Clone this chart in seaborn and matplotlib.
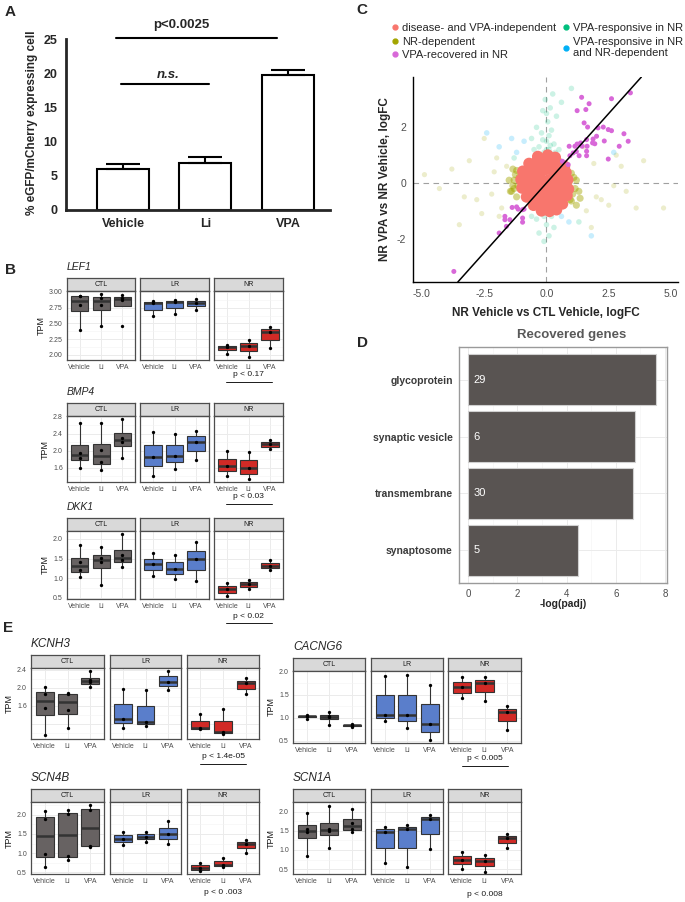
import numpy as np
import pandas as pd
import matplotlib
matplotlib.use('Agg')
import matplotlib.pyplot as plt
from matplotlib.lines import Line2D
from matplotlib.ticker import AutoMinorLocator
import seaborn as sns

W, H = 685, 902

# Panel A - reporter assay
a_groups = ['Vehicle', 'Li', 'VPA']
a_means = [6.0, 6.8, 19.7]
a_sem = [0.75, 0.9, 0.8]

# Panels B / E - TPM per sample, groups in order Vehicle, Li, VPA
treatments = ['Vehicle', 'Li', 'VPA']
conditions = ['CTL', 'LR', 'NR']

lef1_ctl = [[2.40, 2.79, 2.93, 2.94], [2.46, 2.80, 2.91, 2.96], [2.46, 2.88, 2.91, 2.95]]
lef1_lr = [[2.62, 2.82, 2.86], [2.65, 2.84, 2.88], [2.72, 2.82, 2.89]]
lef1_nr = [[2.02, 2.13, 2.16], [1.96, 2.15, 2.23], [2.11, 2.37, 2.44]]

bmp4_ctl = [[1.59, 1.84, 1.96, 2.66], [1.56, 1.74, 2.01, 2.66], [1.84, 2.20, 2.30, 2.74]]
bmp4_lr = [[1.42, 1.85, 2.45], [1.58, 1.89, 2.40], [1.78, 2.21, 2.47]]
bmp4_nr = [[1.42, 1.64, 1.99], [1.33, 1.59, 1.97], [2.04, 2.16, 2.26]]

dkk1_ctl = [[1.03, 1.20, 1.42, 1.84], [0.82, 1.40, 1.52, 1.79], [1.28, 1.45, 1.59, 2.13]]
dkk1_lr = [[1.06, 1.35, 1.63], [0.98, 1.23, 1.60], [0.92, 1.48, 1.91]]
dkk1_nr = [[0.55, 0.72, 0.87], [0.73, 0.84, 0.96], [1.20, 1.30, 1.45]]

kcnh3_ctl = [[0.95, 1.55, 1.86, 2.03], [1.12, 1.51, 1.87, 1.89], [2.01, 2.12, 2.17, 2.38]]
kcnh3_lr = [[1.12, 1.32, 1.97], [1.15, 1.25, 1.95], [1.95, 2.14, 2.37]]
kcnh3_nr = [[1.09, 1.11, 1.43], [0.99, 1.02, 1.53], [1.86, 2.10, 2.22]]

cacng6_ctl = [[0.97, 1.03, 1.04, 1.06], [0.85, 1.01, 1.03, 1.12], [0.79, 0.82, 0.84, 0.86]]
cacng6_lr = [[0.93, 1.06, 1.91], [0.78, 1.06, 1.93], [0.52, 0.87, 1.70]]
cacng6_nr = [[1.42, 1.66, 1.89], [1.36, 1.74, 1.87], [0.73, 1.12, 1.25]]

scn4b_ctl = [[0.63, 0.97, 1.90, 2.10], [0.82, 0.92, 2.02, 2.14], [1.17, 1.18, 2.13, 2.25]]
scn4b_lr = [[1.22, 1.37, 1.56], [1.29, 1.43, 1.55], [1.25, 1.50, 1.83]]
scn4b_nr = [[0.52, 0.60, 0.75], [0.63, 0.68, 0.88], [1.00, 1.25, 1.35]]

scn1a_ctl = [[0.83, 1.48, 1.54, 1.98], [1.04, 1.50, 1.56, 2.15], [1.48, 1.55, 1.72, 2.08]]
scn1a_lr = [[0.65, 1.48, 1.61], [0.55, 1.56, 1.65], [1.03, 1.82, 1.93]]
scn1a_nr = [[0.50, 0.74, 0.95], [0.42, 0.72, 0.88], [1.05, 1.32, 1.42]]

# Panel C - logFC scatter (x: NR Veh vs CTL Veh, y: NR VPA vs NR Veh)
indep_x = [-0.35, 0.05, 0.35, -0.7, -0.42, -0.12, 0.18, 0.48, 0.72,
           -0.95, -0.66, -0.38, -0.05, 0.25, 0.52, 0.78,
           -1.02, -0.78, -0.5, -0.22, 0.08, 0.36, 0.62, 0.85,
           -0.98, -0.72, -0.45, -0.15, 0.15, 0.44, 0.68, 0.88,
           -0.8, -0.55, -0.25, 0.05, 0.35, 0.6, 0.82,
           -0.52, -0.25, 0.08, 0.38, 0.64, -0.2, 0.12, 0.4]
indep_y = [0.95, 1.0, 0.92, 0.7, 0.74, 0.72, 0.76, 0.7, 0.6,
           0.42, 0.45, 0.4, 0.48, 0.43, 0.45, 0.38,
           0.12, 0.15, 0.1, 0.13, 0.1, 0.15, 0.08, 0.12,
           -0.18, -0.2, -0.15, -0.22, -0.18, -0.2, -0.15, -0.22,
           -0.5, -0.48, -0.52, -0.5, -0.48, -0.52, -0.45,
           -0.8, -0.78, -0.82, -0.8, -0.75, -1.0, -1.02, -0.96]
nrdep_core_x = [-1.35, -1.25, -1.3, -1.15, -1.4, -1.2, -1.1, -1.3, -1.5, -1.45, -1.2, -1.35,
                0.95, 1.05, 1.15, 0.9, 1.1, 1.2, 1.0, 0.85, 1.3, 1.2, 1.0, 1.35]
nrdep_core_y = [0.5, 0.3, 0.1, -0.1, -0.3, -0.5, 0.2, -0.2, 0.1, -0.3, 0.45, -0.1,
                -0.6, -0.4, -0.2, 0.0, 0.2, -0.8, 0.35, -0.35, -0.3, 0.1, -0.65, -0.55]
nrdep_x = [-4.9, -4.3, -3.8, -3.5, -3.1, -2.8, -2.5, -2.2, -2.0, -1.8, -1.6, -2.6, -3.3, -2.1, -1.9,
           1.6, 1.9, 2.2, 2.5, 2.8, 3.2, 3.6, 3.9, 4.7, 2.0, 1.5, 2.7, 3.0, 1.8]
nrdep_y = [0.3, -0.2, 0.5, -1.5, 0.8, -0.6, 1.6, -0.4, 0.9, -0.9, 0.6, -1.1, -0.5, 0.4, -1.2,
           -1.0, 0.7, -0.6, -0.8, 1.0, -0.3, -0.9, 0.8, -0.9, -0.5, 1.3, -0.1, 0.6, -1.6]
resp_x = [-0.1, 0.1, 0.0, -0.3, 0.3, -0.2, 0.2, 0.05, -0.4, 0.4, 0.15, -0.15, 0.6, -0.6, 0.25,
          -0.05, 0.35, -0.25, 0.1, 0.5, -0.5, 0.0, -0.15, 0.15, 0.0,
          -0.2, 0.2, 0.0, -0.4, 0.3, 0.1, -0.1, -0.6, 0.5, -0.3, 1.0, -1.3, 1.3, 0.1, -0.1]
resp_y = [1.1, 1.2, 1.5, 1.3, 1.4, 1.8, 1.9, 2.2, 2.0, 2.4, 2.7, 2.6, 2.9, 1.6, 3.2,
          3.0, 1.1, 1.0, 1.7, 1.2, 1.2, 2.5, 1.55, 1.35, 1.2,
          -1.1, -1.2, -1.5, -1.3, -1.6, -1.9, -2.1, -1.2, -1.0, -1.8, 3.4, 0.9, -1.4, -1.1, -1.2]
respdep_x = [-1.4, -1.9, -2.4, -1.2, -0.9, 0.6, 0.9, 1.8, -0.3, 2.7]
respdep_y = [1.6, 1.3, 1.8, 1.1, 1.5, -1.2, -1.4, -1.9, -1.0, 1.1]
recov_x = [1.41, 2.61, 3.37, 1.71, 1.23, 1.58, 1.51, 1.65, 2.07, 2.28,
           2.48, 2.61, 3.11, 3.28, 2.92, 2.32, 2.01, 1.87, 1.85, 1.94,
           1.61, 1.37, 1.23, 1.14, 1.43, 1.63, 1.61, 1.61, 1.31, 1.07,
           0.91, 0.94, 1.20, 0.87, 0.64, 2.48, -1.38, -1.20, -1.14, -0.96,
           -0.90, -1.67, -1.67, -1.47, -0.96, -0.96, -1.61, -1.90, -3.72]
recov_y = [3.08, 3.03, 3.24, 2.85, 2.60, 2.64, 2.16, 2.01, 1.98, 2.01,
           1.92, 1.88, 1.77, 1.50, 1.32, 1.51, 1.68, 1.58, 1.44, 1.41,
           1.56, 1.44, 1.40, 1.32, 1.32, 1.32, 1.14, 0.98, 0.98, 1.08,
           1.32, 0.98, 1.13, 0.66, 0.78, 0.86, -0.88, -0.86, -0.94, -0.96,
           -0.94, -1.20, -1.32, -1.32, -1.26, -1.41, -1.56, -1.80, -3.18]

# Panel D - enrichment of recovered genes
d_terms = ['glycoprotein', 'synaptic vesicle', 'transmembrane', 'synaptosome']
d_padj = [7.65, 6.77, 6.70, 4.47]
d_counts = [29, 6, 30, 5]

cond_colors = {'CTL': '#676262', 'LR': '#5A7ECB', 'NR': '#D12A26'}

sns.set_style('white')
plt.rcParams['font.family'] = ['Liberation Sans', 'DejaVu Sans']
plt.rcParams['axes.unicode_minus'] = False

fig = plt.figure(figsize=(W / 100, H / 100), dpi=100)
fig.patch.set_facecolor('white')


def px_rect(l, t, r, b):
    return [l / W, 1 - b / H, (r - l) / W, (b - t) / H]


def ftext(x, y, s, **kw):
    fig.text(x / W, 1 - y / H, s, **kw)


def fline(x0, x1, y, **kw):
    fig.add_artist(Line2D([x0 / W, x1 / W], [1 - y / H, 1 - y / H],
                          transform=fig.transFigure, **kw))


def gene_panel(name, groups, xs, strip_top, panel_bot, ylim, yticks, ylabels,
               title_size, ptext, p_y, p_line=True):
    strip_bot = strip_top + 13
    ftext(xs[0][0], strip_top - 11, name, fontsize=title_size, style='italic', va='center')
    for k, (cond, vals) in enumerate(zip(conditions, groups)):
        l, r = xs[k]
        sax = fig.add_axes(px_rect(l, strip_top, r, strip_bot))
        sax.set_facecolor('#D9D9D9')
        sax.set_xticks([])
        sax.set_yticks([])
        for sp in sax.spines.values():
            sp.set_color('#4D4D4D')
            sp.set_linewidth(0.9)
        sax.text(0.5, 0.5, cond, ha='center', va='center', fontsize=5,
                 color='#1A1A1A', transform=sax.transAxes)

        ax = fig.add_axes(px_rect(l, strip_bot, r, panel_bot))
        df = pd.DataFrame({'treatment': np.repeat(treatments, [len(v) for v in vals]),
                           'TPM': np.concatenate(vals)})
        sns.boxplot(data=df, x='treatment', y='TPM', order=treatments,
                    color=cond_colors[cond], saturation=1, linecolor='#333333',
                    linewidth=0.8, width=0.8, showfliers=False, showcaps=False,
                    medianprops={'linewidth': 1.8}, ax=ax)
        sns.stripplot(data=df, x='treatment', y='TPM', order=treatments,
                      color='black', size=2.4, jitter=False, zorder=4, ax=ax)
        ax.set_xlim(-0.6, 2.6)
        ax.set_ylim(*ylim)
        ax.set_xlabel('')
        ax.set_ylabel('')
        ax.set_yticks(yticks)
        ax.yaxis.set_minor_locator(AutoMinorLocator(2))
        ax.set_axisbelow(True)
        ax.grid(True, which='major', color='#EBEBEB', lw=0.7)
        ax.grid(True, which='minor', axis='y', color='#F3F3F3', lw=0.4)
        for sp in ax.spines.values():
            sp.set_color('#4D4D4D')
            sp.set_linewidth(0.9)
        ax.tick_params(axis='x', length=2, width=0.6, color='#333333',
                       labelsize=5, labelcolor='#4D4D4D', pad=1)
        ax.tick_params(which='minor', length=0)
        if k == 0:
            ax.set_yticklabels(ylabels)
            ax.tick_params(axis='y', length=2, width=0.6, color='#333333',
                           labelsize=5, labelcolor='#4D4D4D', pad=1)
            ax.set_ylabel('TPM', fontsize=6.5, color='#1A1A1A', labelpad=2)
        else:
            ax.tick_params(axis='y', length=0, labelleft=False)
    cx = (xs[2][0] + xs[2][1]) / 2
    ftext(cx, p_y, ptext, fontsize=6, ha='center', va='center', color='#1A1A1A')
    if p_line:
        fline(cx - 23, cx + 23, p_y + 7, color='#1A1A1A', lw=0.7)


# ---------------- Panel A ----------------
axA = fig.add_axes(px_rect(66, 36, 330, 210))
sns.barplot(x=a_groups, y=a_means, color='white', saturation=1, edgecolor='black',
            linewidth=1.5, width=0.63, ax=axA)
axA.errorbar(range(len(a_groups)), a_means, yerr=[np.zeros(len(a_sem)), a_sem],
             fmt='none', ecolor='black', elinewidth=1.5, capsize=12, capthick=1.5, zorder=1)
axA.plot([-0.08, 1.87], [25.1, 25.1], color='black', lw=1.5, clip_on=False)
axA.plot([-0.02, 1.04], [18.4, 18.4], color='black', lw=1.5, clip_on=False)
axA.set_xlim(-0.69, 2.51)
axA.set_ylim(0, 25.44)
axA.set_yticks([0, 5, 10, 15, 20, 25])
axA.spines['top'].set_visible(False)
axA.spines['right'].set_visible(False)
axA.spines['left'].set_bounds(0, 25)
axA.spines['left'].set_linewidth(2)
axA.spines['bottom'].set_linewidth(2)
axA.tick_params(axis='both', direction='out', length=4, width=1.5, color='black',
                labelsize=9, pad=2)
for lab in axA.get_xticklabels() + axA.get_yticklabels():
    lab.set_fontweight('bold')
axA.set_ylabel('% eGFP/mCherry expressing cell', fontsize=8.5, fontweight='bold', labelpad=4)
ftext(181, 25, 'p<0.0025', fontsize=9.5, fontweight='bold', ha='center', va='center')
ftext(168, 75, 'n.s.', fontsize=9.5, fontweight='bold', style='italic', ha='center', va='center')

# ---------------- Panel B ----------------
xs_B = [(67, 135), (140, 209), (214, 283)]
gene_panel('LEF1', [lef1_ctl, lef1_lr, lef1_nr], xs_B, 278, 360, (1.92, 3.015),
           [2.0, 2.25, 2.5, 2.75, 3.0], ['2.00', '2.25', '2.50', '2.75', '3.00'],
           7.5, 'p < 0.17', 375)
gene_panel('BMP4', [bmp4_ctl, bmp4_lr, bmp4_nr], xs_B, 403, 482, (1.27, 2.82),
           [1.6, 2.0, 2.4, 2.8], ['1.6', '2.0', '2.4', '2.8'],
           7.5, 'p < 0.03', 497)
gene_panel('DKK1', [dkk1_ctl, dkk1_lr, dkk1_nr], xs_B, 518, 599, (0.47, 2.2),
           [0.5, 1.0, 1.5, 2.0], ['0.5', '1.0', '1.5', '2.0'],
           7.5, 'p < 0.02', 616)

# ---------------- Panel E ----------------
xs_EL = [(31, 104), (110, 181), (187, 259)]
xs_ER = [(293, 365), (371, 443), (448, 521)]
gene_panel('KCNH3', [kcnh3_ctl, kcnh3_lr, kcnh3_nr], xs_EL, 655, 739, (0.87, 2.44),
           [1.2, 1.6, 2.0, 2.4], ['', '1.6', '2.0', '2.4'],
           8.5, 'p < 1.4e-05', 757)
gene_panel('CACNG6', [cacng6_ctl, cacng6_lr, cacng6_nr], xs_ER, 658, 743, (0.45, 2.01),
           [0.5, 1.0, 1.5, 2.0], ['0.5', '1.0', '1.5', '2.0'],
           8.5, 'p < 0.005', 759)
gene_panel('SCN4B', [scn4b_ctl, scn4b_lr, scn4b_nr], xs_EL, 789, 874, (0.45, 2.34),
           [0.5, 1.0, 1.5, 2.0], ['0.5', '1.0', '1.5', '2.0'],
           8.5, 'p < 0 .003', 893, p_line=False)
gene_panel('SCN1A', [scn1a_ctl, scn1a_lr, scn1a_nr], xs_ER, 789, 874, (0.37, 2.26),
           [0.5, 1.0, 1.5, 2.0], ['0.5', '1.0', '1.5', '2.0'],
           8.5, 'p < 0.008', 895, p_line=False)

# ---------------- Panel C ----------------
c_colors = {'indep': '#F8766D', 'nrdep': '#A3A500', 'recov': '#D868D8',
            'resp': '#00BF7D', 'respdep': '#00B0F6'}
axC = fig.add_axes(px_rect(413, 77, 678, 282))
axC.axhline(0, color='#A0A0A0', ls=(0, (5, 4)), lw=0.8, zorder=0)
axC.axvline(0, color='#A0A0A0', ls=(0, (5, 4)), lw=0.8, zorder=0)
sns.scatterplot(x=nrdep_x, y=nrdep_y, color=c_colors['nrdep'], alpha=0.2, s=14,
                edgecolor='none', ax=axC)
sns.scatterplot(x=nrdep_core_x, y=nrdep_core_y, color=c_colors['nrdep'], alpha=0.45, s=26,
                edgecolor='none', ax=axC)
sns.scatterplot(x=resp_x, y=resp_y, color=c_colors['resp'], alpha=0.2, s=16,
                edgecolor='none', ax=axC)
sns.scatterplot(x=respdep_x, y=respdep_y, color=c_colors['respdep'], alpha=0.22, s=16,
                edgecolor='none', ax=axC)
sns.scatterplot(x=indep_x, y=indep_y, color=c_colors['indep'], alpha=1, s=70,
                edgecolor='none', ax=axC)
sns.scatterplot(x=recov_x, y=recov_y, color=c_colors['recov'], alpha=1, s=13,
                edgecolor='none', ax=axC, zorder=5)
axC.axline((0, 0), slope=1.0, color='black', lw=1.1, zorder=6)
axC.set_xlim(-5.36, 5.28)
axC.set_ylim(-3.56, 3.81)
axC.set_xticks([-5.0, -2.5, 0.0, 2.5, 5.0])
axC.set_xticklabels(['-5.0', '-2.5', '0.0', '2.5', '5.0'])
axC.set_yticks([-2, 0, 2])
for s in ['top', 'right']:
    axC.spines[s].set_visible(False)
for s in ['left', 'bottom']:
    axC.spines[s].set_color('black')
    axC.spines[s].set_linewidth(1.0)
axC.tick_params(axis='both', length=3, width=0.7, color='#333333', labelsize=7.5,
                labelcolor='#4D4D4D', pad=2)
axC.set_xlabel('NR Vehicle vs CTL Vehicle, logFC', fontsize=8.5, fontweight='bold', labelpad=6)
axC.set_ylabel('NR VPA vs NR Vehicle, logFC', fontsize=8.5, fontweight='bold', labelpad=4)

leg_labels = ['disease- and VPA-independent', 'NR-dependent', 'VPA-recovered in NR',
              'VPA-responsive in NR', 'VPA-responsive in NR\nand NR-dependent']
leg_keys = ['indep', 'nrdep', 'recov', 'resp', 'respdep']
handles = [Line2D([], [], marker='o', ls='', color=c_colors[k], markersize=3.5)
           for k in leg_keys]
fig.legend(handles, leg_labels, loc='upper left', bbox_to_anchor=(388 / W, 1 - 23 / H),
           ncol=2, frameon=False, fontsize=8.0, handletextpad=0.05, columnspacing=0.3,
           labelspacing=0.33, borderpad=0, handlelength=1.2, borderaxespad=0)

# ---------------- Panel D ----------------
axD = fig.add_axes(px_rect(459, 347, 667, 583))
sns.barplot(x=d_padj, y=d_terms, color='#595452', saturation=1, width=0.9,
            edgecolor='#D0D0D0', linewidth=0.8, orient='h', ax=axD, zorder=2)
for i, c in enumerate(d_counts):
    axD.text(0.22, i, str(c), color='white', va='center', ha='left', fontsize=8, zorder=3)
axD.set_xlim(-0.37, 8.08)
axD.set_ylim(3.58, -0.58)
axD.set_xticks([0, 2, 4, 6, 8])
axD.xaxis.set_minor_locator(AutoMinorLocator(2))
axD.set_axisbelow(True)
axD.grid(True, which='major', color='#EBEBEB', lw=0.7)
axD.grid(True, which='minor', axis='x', color='#F3F3F3', lw=0.4)
for sp in axD.spines.values():
    sp.set_color('#9A9A9A')
    sp.set_linewidth(1.0)
axD.tick_params(axis='both', length=2.5, width=0.6, color='#555555', pad=2)
axD.tick_params(which='minor', length=0)
axD.tick_params(axis='x', labelsize=7, labelcolor='#4D4D4D')
axD.tick_params(axis='y', labelsize=7.5, labelcolor='#3A3A3A')
for lab in axD.get_yticklabels():
    lab.set_fontweight('bold')
axD.set_xlabel('-log(padj)', fontsize=7.5, fontweight='bold', labelpad=0)
axD.set_ylabel('')
ftext(572, 335, 'Recovered genes', fontsize=9.5, fontweight='bold', color='#595959',
      ha='center', va='center')

# ---------------- panel letters ----------------
for letter, (x, y) in {'A': (10, 12), 'B': (10, 270), 'C': (362, 10),
                       'D': (362, 343), 'E': (8, 628)}.items():
    ftext(x, y, letter, fontsize=11, fontweight='bold', ha='center', va='center')

fig.savefig('out.png', dpi=100)
